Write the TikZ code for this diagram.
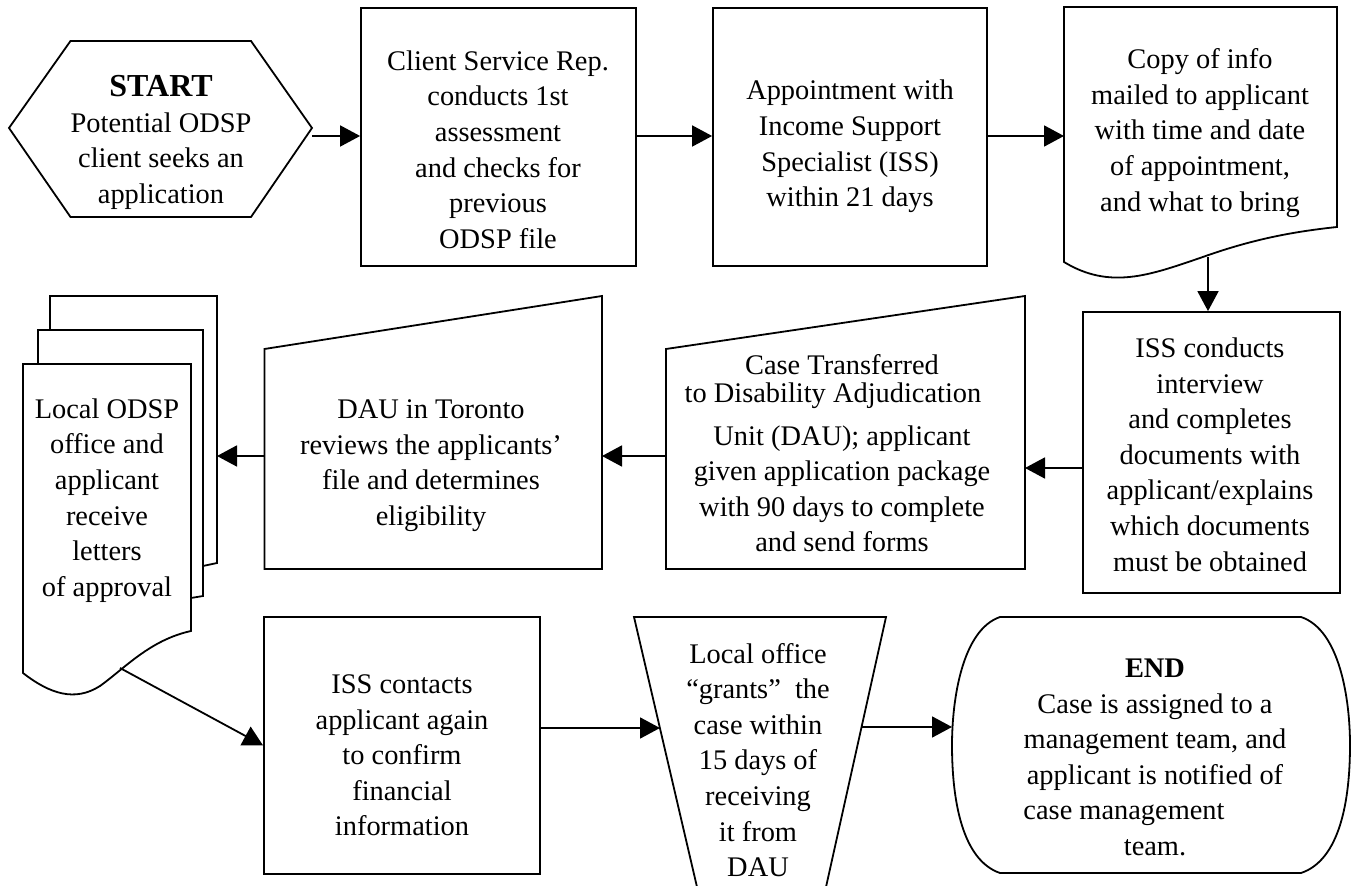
\documentclass[tikz,border=0pt]{standalone}
\usepackage{fontspec}
\setmainfont{Liberation Serif}
\usetikzlibrary{
    arrows.meta,
    fit
}
\tikzset{pbox/.style={draw=black, line width=0.9pt, inner sep=0pt}}
\tikzset{ptext/.style={align=center, inner sep=0pt, font=\fontsize{14.2}{17.8}\selectfont}}
\tikzset{pline/.style={line width=0.9pt, line join=miter}}
\tikzset{arr/.style={-{Triangle[length=10pt, width=10.5pt]}, line width=0.9pt}}

\begin{document}
\begin{tikzpicture}[x=0.5pt, y=-0.5pt]
                        \useasboundingbox (0, 0) rectangle (1354, 886);

                        \draw[pline] (9, 128) -- (70.5, 41) -- (251, 41) -- (312, 128) -- (251, 217) -- (70.5, 217) -- cycle;
                        \node[ptext] (start-t) at (161, 142.5) {{\fontsize{16}{17.8}\selectfont\bfseries START}\\Potential ODSP\\client seeks an\\application};
                        \coordinate (start-e) at (312, 136);

                        \node[pbox, fit={(361, 8) (636, 266)}] (csr) {};
                        \node[ptext] (csr-t) at (498, 149.5) {Client Service Rep.\\conducts 1st\\assessment\\and checks for\\previous\\ODSP file};

                        \node[pbox, fit={(713, 8) (987, 266)}] (appt) {};
                        \node[ptext] (appt-t) at (850, 146.5) {Appointment with\\Income Support\\Specialist (ISS)\\within 21 days};

                        \draw[pline] (1064, 262) -- (1064, 7) -- (1337, 7) -- (1337, 227)
                            .. controls (1290, 232) and (1250, 240) .. (1200, 258)
                            .. controls (1150, 275) and (1110, 290) .. (1064, 262) -- cycle;
                        \node[ptext] (mail-t) at (1200, 133) {Copy of info\\mailed to applicant\\with time and date\\of appointment,\\and what to bring};
                        \coordinate (mail-w) at (1064, 136);
                        \coordinate (mail-s) at (1208, 257);

                        \node[pbox, fit={(1083, 312) (1340, 593)}] (iss) {};
                        \node[ptext] (iss-t) at (1210, 454.5) {ISS conducts\\interview\\and completes\\documents with\\applicant/explains\\which documents\\must be obtained};

                        \draw[pline] (666, 349) -- (1025, 296) -- (1025, 569) -- (666, 569) -- cycle;
                        \node[ptext] (xfer-t) at (842, 453.5) {Case Transferred\\[-3.75pt]\mbox{to Disability Adjudication\hspace{9pt}}\\[3.25pt]Unit (DAU); applicant\\given application package\\with 90 days to complete\\and send forms};
                        \coordinate (xfer-e) at (1025, 468);
                        \coordinate (xfer-w) at (666, 456);

                        \draw[pline] (264.5, 349) -- (602, 296) -- (602, 569) -- (264.5, 569) -- cycle;
                        \node[ptext] (dau-t) at (431, 465.5) {DAU in Toronto\\reviews the applicants'\\file and determines\\eligibility};
                        \coordinate (dau-e) at (602, 456);
                        \coordinate (dau-w) at (264.5, 456);

                        \draw[pline] (203, 566) -- (217, 563) -- (217, 296) -- (50, 296) -- (50, 330);
                        \draw[pline] (191, 598) -- (203, 596) -- (203, 330) -- (38, 330) -- (38, 364);
                        \draw[pline] (23, 673) -- (23, 364) -- (191, 364) -- (191, 631)
                            .. controls (150, 640) and (125, 668) .. (100, 686)
                            .. controls (75, 702) and (50, 694) .. (23, 673) -- cycle;
                        \node[ptext] (letters-t) at (107, 500.5) {Local ODSP\\office and\\applicant\\receive\\letters\\of approval};
                        \coordinate (letters-e) at (217, 456);
                        \coordinate (letters-s) at (120, 668);

                        \node[pbox, fit={(264, 617) (540, 874)}] (contact) {};
                        \node[ptext] (contact-t) at (402, 755.5) {ISS contacts\\applicant again\\to confirm\\financial\\information};

                        \draw[pline] (697, 887) -- (634, 617) -- (886, 617) -- (826, 887);
                        \node[ptext] (grant-t) at (758, 760) {Local office\\``grants''\ \ the\\case within\\15 days of\\receiving\\it from\\DAU};
                        \coordinate (grant-w) at (660, 728);
                        \coordinate (grant-e) at (861, 727);

                        \draw[pline] (1000, 617) -- (1301, 617)
                            .. controls (1340, 630) and (1350, 700) .. (1350, 745)
                            .. controls (1350, 800) and (1340, 860) .. (1301, 873)
                            -- (1000, 873)
                            .. controls (962, 860) and (952, 800) .. (952, 745)
                            .. controls (952, 700) and (962, 630) .. (1000, 617) -- cycle;
                        \node[ptext] (finish-t) at (1155, 757.5) {\textbf{END}\\Case is assigned to a\\management team, and\\applicant is notified of\\\mbox{case management\hspace{31pt}}\\team.};
                        \coordinate (finish-w) at (952, 727);

                        \draw
                        (start-e) edge[arr] (start-e -| csr.west)
                        (csr.east |- start-e) edge[arr] (start-e -| appt.west)
                        (appt.east |- mail-w) edge[arr] (mail-w)
                        (mail-s) edge[arr] (mail-s |- iss.north)
                        (iss.west |- xfer-e) edge[arr] (xfer-e)
                        (xfer-w) edge[arr] (dau-e)
                        (dau-w) edge[arr] (letters-e)
                        (letters-s) edge[arr] (contact.west)
                        (contact.east |- grant-w) edge[arr] (grant-w)
                        (grant-e) edge[arr] (finish-w);
                    \end{tikzpicture}
\end{document}
